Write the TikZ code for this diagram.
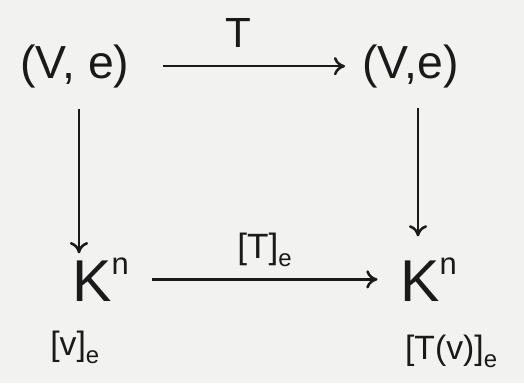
\documentclass[tikz,border=0pt]{standalone}
\usepackage{fontspec}
\setmainfont{Liberation Sans}
\usetikzlibrary{arrows.meta}
\definecolor{CDInk}{HTML}{1A1A1A}
\definecolor{CDPaper}{HTML}{F2F2F0}
\newcommand{\subidx}[1]{\raisebox{-0.45ex}{\fontsize{17}{17}\selectfont #1}}
\newcommand{\supidx}[1]{\raisebox{0.45em}{\fontsize{22}{22}\selectfont #1}}

\begin{document}
\begin{tikzpicture}[x=1cm,y=1cm,
  obj/.style={text=CDInk,font=\fontsize{33}{38}\selectfont,inner sep=0pt,anchor=base west},
  space/.style={text=CDInk,font=\fontsize{42}{46}\selectfont,inner sep=0pt,anchor=base west},
  lbl/.style={text=CDInk,font=\fontsize{25}{29}\selectfont,inner sep=0pt,anchor=base},
  sub/.style={text=CDInk,font=\fontsize{24}{28}\selectfont,inner sep=0pt,anchor=base west},
  map/.style={draw=CDInk,line width=1.8pt,-{To[length=8pt,width=13pt]}}]
\fill[CDPaper] (0,0) rectangle (13.10,9.575);
\path[use as bounding box] (0,0) rectangle (13.10,9.575);
% columns of the vertical maps
\coordinate (colL) at (1.975,0);
\coordinate (colR) at (10.45,0);
% objects
\node[obj] (VL) at (0.50,7.62) {(V, e)};
\node[obj] (VR) at (9.05,7.62) {(V,e)};
\node[space] (KL) at (1.80,2.05) {K\supidx{n}};
\node[space] (KR) at (10.00,2.05) {K\supidx{n}};
\node[sub] (vL) at (1.25,0.70) {[v]\subidx{e}};
\node[sub] (TvR) at (10.12,0.58) {[T(v)]\subidx{e}};
% maps
\draw[map,shorten <=24pt,shorten >=12pt] (VL.east) -- node[lbl,font=\fontsize{30}{34}\selectfont,yshift=13pt,xshift=-5pt] (T) {T} (VR.west);
\draw[map,shorten <=15pt,shorten >=3pt] (VL.south -| colL) -- (KL.north -| colL);
\draw[map,shorten <=14pt,shorten >=15pt] (VR.south -| colR) -- (KR.north -| colR);
\draw[map,shorten <=16pt,shorten >=16pt] (KL.east) -- node[lbl,yshift=15pt] (Te) {[T]\subidx{e}} (KR.west);
\end{tikzpicture}
\end{document}
